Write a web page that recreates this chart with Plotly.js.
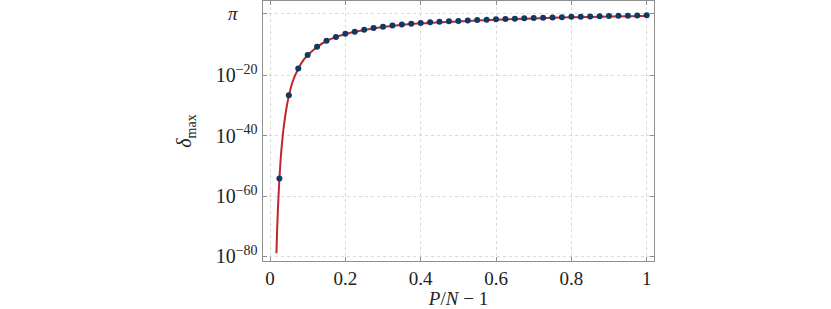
<!DOCTYPE html>
<html>
<head>
<meta charset="utf-8">
<script src="https://cdn.plot.ly/plotly-3.0.1.min.js"></script>
<style>html,body{margin:0;padding:0;background:#fff;}#chart{width:831px;height:309px;}</style>
</head>
<body>
<div id="chart"></div>
<script>
// Sampled points (dots)
const dotX = [0.025,0.05,0.075,0.1,0.125,0.15,0.175,0.2,0.225,0.25,0.275,0.3,0.325,0.35,0.375,0.4,0.425,0.45,0.475,0.5,
              0.525,0.55,0.575,0.6,0.625,0.65,0.675,0.7,0.725,0.75,0.775,0.8,0.825,0.85,0.875,0.9,0.925,0.95,0.975,1.0];
const dotY = [6.3e-55,2.5e-27,2.0e-18,5.5e-14,3.2e-11,3.1e-9,5.2e-8,6.5e-7,3.0e-6,1.4e-5,5.1e-5,1.4e-4,3.2e-4,7.9e-4,1.35e-3,2.3e-3,4.0e-3,6.3e-3,8.5e-3,1.07e-2,
              1.66e-2,2.3e-2,2.9e-2,3.9e-2,4.9e-2,6.2e-2,8.3e-2,0.107,0.141,0.166,0.19,0.263,0.30,0.34,0.44,0.49,0.55,0.63,0.72,0.95];
// Continuous curve
const curveX = [0.017,0.019,0.021,0.023,0.025,0.0275,0.03,0.035,0.04,0.045,0.05,0.06,0.075,0.09,0.1,0.125,0.15,0.2,0.25,0.3,0.4,0.5,0.6,0.7,0.8,0.9,1.0];
const curveY = [1e-79,1e-71,3.2e-65,1e-59,4e-55,6.3e-50,1e-45,2.5e-39,1.6e-34,1.26e-30,1.6e-27,8e-23,1.6e-18,2e-15,5e-14,2.5e-11,2.5e-9,5e-7,1.1e-5,1.1e-4,1.8e-3,7.9e-3,2.8e-2,7.9e-2,0.178,0.316,0.5];
// Tick labels
const xTicks = [0,0.2,0.4,0.6,0.8,1];
const xTickText = ['0','0.2','0.4','0.6','0.8','1'];
const yTicks = [1e-80,1e-60,1e-40,1e-20,Math.PI];
const yTickText = ['10<sup>−80</sup>','10<sup>−60</sup>','10<sup>−40</sup>','10<sup>−20</sup>',''];

const FONT = '"Liberation Serif", "DejaVu Serif", serif';
const data = [
  {x: curveX, y: curveY, type:'scatter', mode:'lines', line:{color:'#c0262d', width:2, shape:'spline', smoothing:0.6}, hoverinfo:'skip'},
  {x: dotX, y: dotY, type:'scatter', mode:'markers', marker:{color:'#0d3a63', size:6}}
];
const axisCommon = {
  showline:true, linecolor:'#8f8f8f', linewidth:1.4, mirror:'ticks',
  ticks:'inside', ticklen:4, tickcolor:'#8f8f8f', tickwidth:1,
  showgrid:true, gridcolor:'#d0d0d0', gridwidth:0.8, griddash:'3px,3px',
  zeroline:false
};
const layout = {
  width:831, height:309,
  margin:{l:263, r:177, t:1, b:48},
  paper_bgcolor:'#fff', plot_bgcolor:'#fff',
  showlegend:false,
  font:{family:FONT, color:'#222'},
  xaxis: Object.assign({}, axisCommon, {
    range:[-0.0186,1.0194], tickvals:xTicks, ticktext:xTickText,
    tickfont:{family:FONT, size:19, color:'#222'},
    title:{text:'<i>P</i>/<i>N</i> − 1', font:{family:FONT, size:19, color:'#222'}, standoff:4}
  }),
  yaxis: Object.assign({}, axisCommon, {
    type:'log', range:[-81.55,4.67], tickvals:yTicks, ticktext:yTickText,
    tickfont:{family:FONT, size:20, color:'#222'},
    title:{text:'<i>δ</i><sub>max</sub>', font:{family:FONT, size:20, color:'#222'}, standoff:18}
  }),
  annotations:[{xref:'paper', yref:'y', x:-0.077, y:Math.log10(Math.PI), text:'<i>π</i>', showarrow:false,
    font:{family:FONT, size:19, color:'#222'}, xanchor:'center', yanchor:'middle'}]
};
Plotly.newPlot('chart', data, layout, {displayModeBar:false, staticPlot:true});
</script>
</body>
</html>
